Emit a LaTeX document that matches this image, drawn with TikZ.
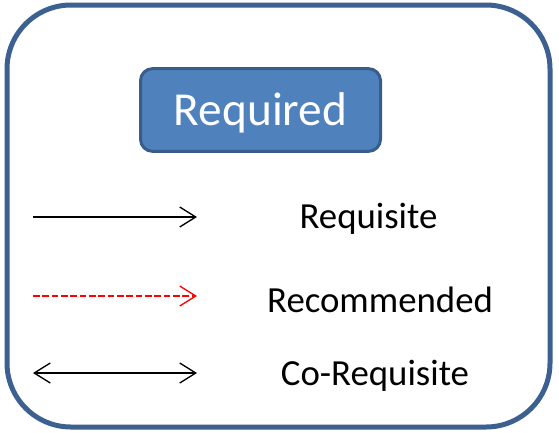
\documentclass[tikz,border=0pt]{standalone}
\usepackage{fontspec}
\setmainfont{Carlito}
\usetikzlibrary{arrows.meta}
\definecolor{frameblue}{HTML}{3C6090}
\definecolor{boxfill}{HTML}{4F81BD}
\definecolor{boxline}{HTML}{385D8A}
\tikzset{
  legendtip/.tip={Straight Barb[length=12pt,width=15pt,line width=1pt]},
  legendline/.style={line width=1pt},
  legendlabel/.style={anchor=base,inner sep=0pt,font=\fontsize{27.6}{32}\selectfont},
}
\begin{document}
\begin{tikzpicture}[x=0.75pt,y=-0.75pt]
\useasboundingbox (0,0) rectangle (559,432);
\draw[frameblue,line width=3.75pt,rounded corners=48pt] (7,5) rectangle (550,427);
\node[draw=boxline,fill=boxfill,line width=2.25pt,rounded corners=9pt,
      minimum width=180pt,minimum height=62pt,inner sep=0pt] (req) at (260.5,110) {};
\node[anchor=base,inner sep=0pt,text=white,font=\fontsize{35.5}{42}\selectfont] (reqtxt) at (260.5,125) {Required};
\coordinate (a1s) at (33,217); \coordinate (a1e) at (197,217);
\coordinate (a2s) at (33,296); \coordinate (a2e) at (197,296);
\coordinate (a3s) at (33,373); \coordinate (a3e) at (197,373);
\draw[legendline,-legendtip] (a1s) -- (a1e);
\draw[legendline,red,dash pattern=on 5pt off 2pt,-legendtip] (a2s) -- (a2e);
\draw[legendline,legendtip-legendtip] (a3s) -- (a3e);
\node[legendlabel] (l1) at (368.5,228) {Requisite};
\node[legendlabel] (l2) at (380,312) {Recommended};
\node[legendlabel] (l3) at (375,385) {Co-Requisite};
\end{tikzpicture}
\end{document}
